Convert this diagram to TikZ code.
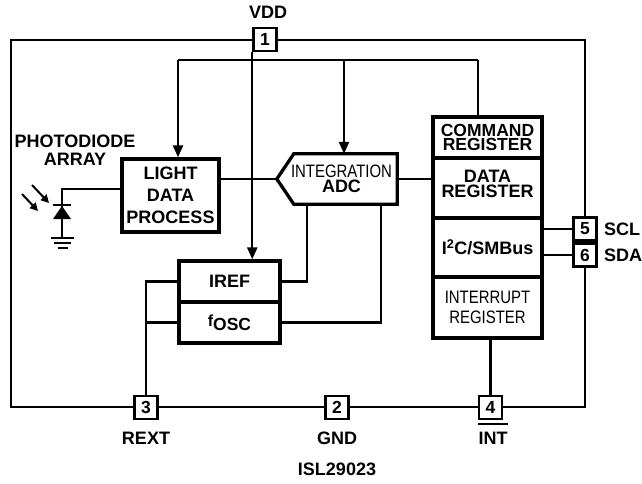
\documentclass[tikz,border=0pt]{standalone}
\usepackage{fontspec}
\setmainfont{Liberation Sans}
\newfontfamily\narrowfont{Liberation Sans}[FakeStretch=0.83]
\usetikzlibrary{arrows.meta,calc}
\begin{document}
\begin{tikzpicture}[x=1pt,y=-1pt,
  wire/.style={line width=2.4pt},
  arr/.style={wire,-{Triangle[length=12pt,width=10pt]}},
  blk/.style={draw,line width=3.3pt,fill=white,inner sep=0pt,align=center,font=\bfseries\fontsize{18}{22}\selectfont},
  pin/.style={draw,line width=2.5pt,fill=white,minimum size=23pt,inner sep=0pt,font=\bfseries\fontsize{17.5}{17.5}\selectfont},
  lbl/.style={inner sep=0pt,align=center,font=\bfseries\fontsize{18}{18}\selectfont},
  gline/.style={line width=2pt}
]
\useasboundingbox (0,0) rectangle (642,483);
% outer frame
\draw[line width=2.6pt] (11,40) rectangle (585,407);

% blocks
\node[blk,minimum width=97pt,minimum height=73pt] (light) at (170.5,195.5) {LIGHT\\DATA\\PROCESS};
\node[inner sep=0pt,minimum width=111pt,minimum height=50pt,align=center,font=\fontsize{18}{15.5}\selectfont] (adc) at (341.5,179) {{\narrowfont INTEGRATION}\\{\bfseries ADC}};
\draw[line width=3.3pt] ($(adc.north west)+(8,0)$) -- (adc.north east) -- (adc.south east) -- ($(adc.south west)+(8,0)$) -- ($(adc.west)+(-9,0)$) -- cycle;

\node[blk,minimum width=109pt,minimum height=41pt,font=\bfseries\fontsize{17.5}{14}\selectfont] (cmd) at (487.5,137.5) {COMMAND\\REGISTER};
\node[blk,minimum width=109pt,minimum height=60pt,font=\bfseries\fontsize{18}{15}\selectfont] (data) at (487.5,188) {DATA\\REGISTER\\[-11pt]\strut};
\node[blk,minimum width=109pt,minimum height=59pt] (i2c) at (487.5,247.5) {I\textsuperscript{2}C/SMBus};
\node[blk,minimum width=109pt,minimum height=61pt,font=\narrowfont\fontsize{18}{20}\selectfont] (intr) at (487.5,307.5) {INTERRUPT\\REGISTER};

\node[blk,minimum width=101pt,minimum height=41pt] (iref) at (229.5,281.5) {IREF};
\node[blk,minimum width=101pt,minimum height=41pt] (fosc) at (229.5,322.5) {{\fontsize{16}{16}\selectfont f}\raisebox{-4pt}{\fontsize{17.5}{17.5}\selectfont OSC}};

% pins
\node[pin] (p1) at (265,39.5) {1};
\node[pin] (p3) at (146,407.5) {3};
\node[pin] (p2) at (337,407.5) {2};
\node[pin] (p4) at (490.5,407.5) {4};
\node[pin] (p5) at (585,229) {5};
\node[pin] (p6) at (585,255) {6};

% labels
\node[lbl] (vdd) at (268,12) {VDD};
\node[lbl] (rext) at (146,438) {REXT};
\node[lbl] (gndl) at (337,438) {GND};
\node[lbl,inner xsep=0pt,inner ysep=8pt] (intl) at (493,438) {INT};
\draw[gline] (intl.north west) -- (intl.north east);
\node[lbl] (isl) at (337,469) {ISL29023};
\node[lbl,anchor=west] (scl) at (604,229) {SCL};
\node[lbl,anchor=west] (sda) at (604,255) {SDA};
\node[lbl] (pda) at (75,150) {PHOTODIODE\\ARRAY};

% VDD bus
\coordinate (busL) at (178,60);
\coordinate (busM) at (344,60);
\coordinate (busR) at (478,60);
\draw[wire] (busL) -- (busR);
\draw[arr] (busL) -- (busL |- light.north);
\draw[arr] (busM) -- (busM |- adc.north);
\draw[wire] (busR) -- (busR |- cmd.north);
\draw[arr] (p1.south west) -- (p1.south west |- iref.north);

% ADC connections
\coordinate (adctip) at ($(adc.west)+(-9,0)$);
\draw[wire] (light.east |- adctip) -- (adctip);
\draw[wire] (adc.east) -- (adc.east -| data.west);
\draw[wire] (iref.east) -| ($(adc.south west)+(21,0)$);
\draw[wire] (fosc.east) -| ($(adc.south east)+(-16,0)$);

% REXT
\draw[wire] (p3.north) |- (iref.west);
\draw[wire] (p3.north |- fosc.west) -- (fosc.west);

% bus pins
\draw[wire] (i2c.east |- p5) -- (p5.west);
\draw[wire] (i2c.east |- p6) -- (p6.west);
\draw[wire] (intr.south -| p4) -- (p4.north);

% photodiode
\coordinate (dtop) at (62,189);
\coordinate (dgnd) at (62,238);
\draw[wire] (light.west |- dtop) -- (dtop) -- (dgnd);
\fill (62,206) -- (53,219) -- (71,219) -- cycle;
\draw[wire] (53,205) -- (71,205);
\draw[gline] (51,238) -- (74,238);
\draw[gline] (54,243) -- (71,243);
\draw[gline] (57.5,248) -- (67.5,248);
\draw[gline,-{Triangle[length=8pt,width=8pt]}] (32,185) -- (49,203);
\draw[gline,-{Triangle[length=8pt,width=8pt]}] (22,194) -- (38,211);
\end{tikzpicture}
\end{document}
